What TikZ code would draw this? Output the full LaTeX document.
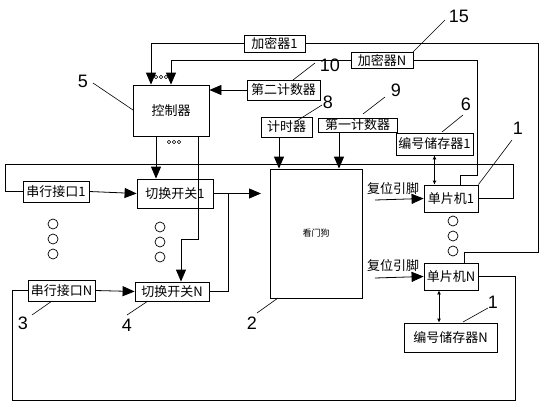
\documentclass[tikz,border=0pt]{standalone}
\usepackage{fontspec}
\newfontfamily\cjk{Noto Sans CJK SC}
\newfontfamily\numfont{Liberation Sans}
\usetikzlibrary{positioning,arrows.meta,calc}
\tikzset{
  blk/.style={draw, line width=0.8pt, inner sep=0pt, font=\cjk\fontsize{13}{13}\selectfont},
  wire/.style={line width=0.8pt},
  arr/.style={wire, -{Triangle[length=12pt,width=10pt]}},
  darr/.style={wire, {Latex[length=4pt,width=4pt]}-{Latex[length=4pt,width=4pt]}},
  num/.style={font=\numfont\fontsize{18}{18}\selectfont, inner sep=0pt},
  lead/.style={line width=0.6pt},
  dot/.style={draw, line width=0.7pt},
}

\begin{document}
\begin{tikzpicture}[x=1pt, y=-1pt]
\useasboundingbox (0,0) rectangle (542,407);

% Blocks
\node[blk, minimum width=61, minimum height=17] (enc1) at (274.5,43.5) {加密器1};
\node[blk, minimum width=62, minimum height=16] (encN) at (382,60) {加密器N};
\node[blk, minimum width=76, minimum height=51] (ctrl) at (171,110.5) {控制器};
\node[blk, minimum width=73, minimum height=20] (cnt2) at (283.5,90) {第二计数器};
\node[blk, minimum width=51, minimum height=20] (timer) at (286.5,127) {计时器};
\node[blk, minimum width=79, minimum height=14] (cnt1) at (357.5,125) {第一计数器};
\node[blk, minimum width=77, minimum height=22] (mem1) at (434.5,144) {编号储存器1};
\node[blk, minimum width=92, minimum height=129, font=\cjk\fontsize{9}{9}\selectfont] (wdog) at (316,233.5) {看门狗};
\node[blk, minimum width=54, minimum height=27] (mcu1) at (451,198.5) {单片机1};
\node[blk, minimum width=54, minimum height=27] (mcuN) at (451,276.5) {单片机N};
\node[blk, minimum width=93, minimum height=29] (memN) at (450.5,337.5) {编号储存器N};
\node[blk, minimum width=66, minimum height=21] (ser1) at (56,191.5) {串行接口1};
\node[blk, minimum width=76, minimum height=29] (sw1) at (175,193.5) {切换开关1};
\node[blk, minimum width=67, minimum height=21] (serN) at (61.5,290.5) {串行接口N};
\node[blk, minimum width=74, minimum height=19] (swN) at (172,291.5) {切换开关N};

% Reset pin labels
\node[font=\cjk\fontsize{13}{13}\selectfont] (rst1) at (393,189) {复位引脚};
\node[font=\cjk\fontsize{13}{13}\selectfont] (rstN) at (393,266) {复位引脚};
\coordinate (rst1in) at (375,200);
\coordinate (rstNin) at (375,278);

% Encryptors to controller and MCUs
\draw[arr] (enc1.west) -| ([xshift=-20pt]ctrl.north);
\draw[arr] (encN.west) -| (ctrl.north);
\draw[wire] (enc1.east) -| (538,252) -| ([xshift=13pt]mcuN.north);
\draw[wire] (encN.east) -| (477,175) -| ([xshift=9pt]mcu1.north);

% Counters, timer
\draw[arr] (cnt2.west) -- (cnt2.west -| ctrl.east);
\draw[arr] ([xshift=-7.5pt]timer.south) -- ([xshift=-7.5pt]timer.south |- wdog.north);
\draw[arr] ([xshift=-18.5pt]cnt1.south) -- ([xshift=-18.5pt]cnt1.south |- wdog.north);

% Memories
\draw[darr] (mem1.south) -- (mem1.south |- mcu1.north);
\draw[darr] ([xshift=-11.5pt]memN.north) -- ([xshift=-11.5pt]memN.north |- mcuN.south);

% Feedback loops
\draw[wire] (mcu1.east) -| (513,164) -| (5,191.5) -- (ser1.west);
\draw[wire] (mcuN.east) -| (515,400) -| (12,290.5) -- (serN.west);

% Serial ports to switches
\draw[arr] (ser1.east) -- (sw1.west);
\draw[arr] (serN.east) -- (swN.west);
\coordinate (swout) at (261,193.5);
\draw[arr] (sw1.east) -- (swout);
\draw[wire] (228,193.5) |- (swN.east);

% Controller to switches
\draw[arr] ([xshift=-15pt]ctrl.south) -- ([xshift=-15pt]ctrl.south |- sw1.north);
\draw[arr] ([xshift=27pt]ctrl.south) |- (181,239) -- ([xshift=9pt]swN.north);

% Reset arrows
\draw[arr] (rst1in) -- (mcu1.west);
\draw[arr] (rstNin) -- (mcuN.west);

% Small dots
\foreach \dx in {-5,0,5} {
  \draw[dot, line width=0.5pt] (161+\dx,77) circle (1.8);
  \draw[dot, line width=0.5pt] (174+\dx,142) circle (1.8);
}
% Big dots
\foreach \yy in {0,15,30} {
  \draw[dot] (53,224+\yy) circle (5);
  \draw[dot] (160,227+\yy) circle (5);
  \draw[dot] (453,221+\yy) circle (5);
}

% Reference numbers
\node[num] (n5) at (83,81) {5};
\draw[lead] (93,83) -- (133,110);
\node[num] (n15) at (459,16) {15};
\draw[lead] (445,20) -- (413,52);
\node[num] (n10) at (330,65) {10};
\draw[lead] (315,63) -- (293,80);
\node[num] (n8) at (328,102) {8};
\draw[lead] (322,105) -- (295,122);
\node[num] (n9) at (396,90) {9};
\draw[lead] (385,97) -- (363,114);
\node[num] (n6) at (466,104) {6};
\draw[lead] (463,115) -- (442,132);
\node[num] (n1a) at (518,128) {1};
\draw[lead] (512,140) -- (mcu1.north east);
\node[num] (n2) at (252,323) {2};
\draw[lead] (257,313) -- (278,298);
\node[num] (n3) at (23,323) {3};
\draw[lead] (32,315) -- (52,301);
\node[num] (n4) at (127,325) {4};
\draw[lead] (127,315) -- (148,301);
\node[num] (n1b) at (493,302) {1};
\draw[lead] (488,308) -- (463,322);

\end{tikzpicture}
\end{document}
